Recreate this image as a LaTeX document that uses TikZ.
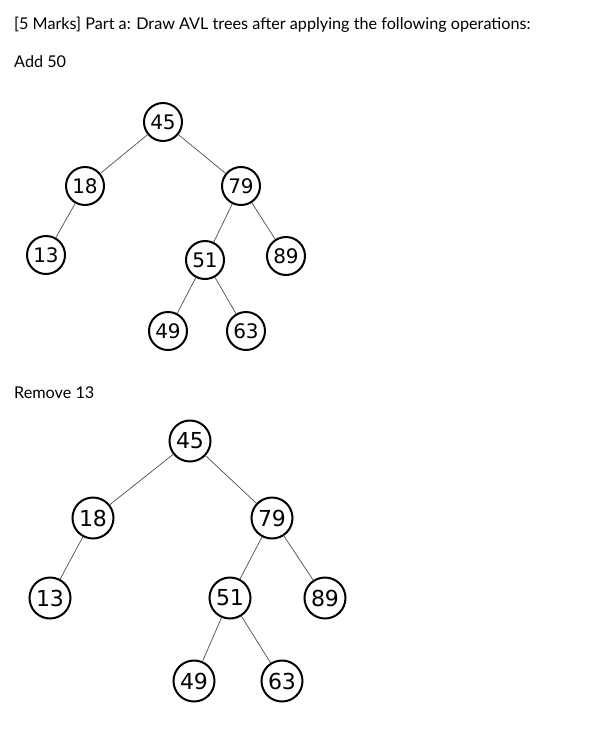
\documentclass[tikz,border=0pt]{standalone}
\usepackage{fontspec}
\setmainfont{Lato}
\newfontfamily\nodefont{DejaVu Sans}
\begin{document}
\begin{tikzpicture}[x=1pt,y=-1pt,
  lbl/.style={anchor=west,inner sep=0pt,font=\fontsize{16.2}{19}\selectfont,text=black},
  n1/.style={circle,draw,line width=2pt,minimum size=38pt,inner sep=0pt,font=\nodefont\fontsize{20}{22}\selectfont},
  n2/.style={circle,draw,line width=2pt,minimum size=41pt,inner sep=0pt,font=\nodefont\fontsize{22}{24}\selectfont},
  edge/.style={draw=black!70,line width=0.7pt}]
\useasboundingbox (0,0) rectangle (608,732);
\node[lbl] (h) at (14,25) {[5 Marks] Part a: Draw AVL trees after applying the following operations:};
\node[lbl] (a) at (14,62) {Add 50};
\node[lbl] (r) at (14,393) {Remove 13};
% tree 1
\node[n1] (a45) at (163,122) {45};
\node[n1] (a18) at (85,186) {18};
\node[n1] (a79) at (241,186) {79};
\node[n1] (a13) at (46,255) {13};
\node[n1] (a51) at (205,260) {51};
\node[n1] (a89) at (286,256) {89};
\node[n1] (a49) at (168,331) {49};
\node[n1] (a63) at (246,331) {63};
\draw[edge] (a45)--(a18); \draw[edge] (a45)--(a79);
\draw[edge] (a18)--(a13); \draw[edge] (a79)--(a51); \draw[edge] (a79)--(a89);
\draw[edge] (a51)--(a49); \draw[edge] (a51)--(a63);
% tree 2
\node[n2] (b45) at (190,441) {45};
\node[n2] (b18) at (93,518) {18};
\node[n2] (b79) at (272,518) {79};
\node[n2] (b13) at (50,598) {13};
\node[n2] (b51) at (230,598) {51};
\node[n2] (b89) at (325,598) {89};
\node[n2] (b49) at (194,681) {49};
\node[n2] (b63) at (282,681) {63};
\draw[edge] (b45)--(b18); \draw[edge] (b45)--(b79);
\draw[edge] (b18)--(b13); \draw[edge] (b79)--(b51); \draw[edge] (b79)--(b89);
\draw[edge] (b51)--(b49); \draw[edge] (b51)--(b63);
\end{tikzpicture}
\end{document}
